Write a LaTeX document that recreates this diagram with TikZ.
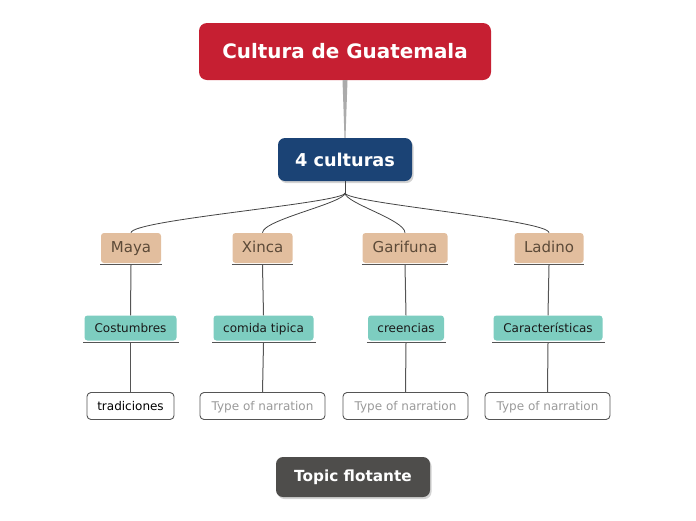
\documentclass[tikz,border=0pt]{standalone}
\usepackage{fontspec}
\setmainfont{DejaVu Sans}
\usetikzlibrary{shadows}
\definecolor{titlecol}{HTML}{C61F32}
\definecolor{mapcol}{HTML}{1B4375}
\definecolor{cultcol}{HTML}{E2BE9E}
\definecolor{culttext}{HTML}{5C4A38}
\definecolor{subcol}{HTML}{7DCDC0}
\definecolor{leafline}{HTML}{555555}
\definecolor{leaftext}{HTML}{9A9A9A}
\definecolor{floatcol}{HTML}{4E4D4B}
\definecolor{linkcol}{HTML}{444444}
\tikzset{
  tnode/.style={rectangle, rounded corners=8pt, fill=titlecol, text=white, font=\fontsize{19.9}{23}\selectfont\bfseries, minimum width=292pt, minimum height=57pt},
  mnode/.style={rectangle, rounded corners=7pt, fill=mapcol, text=white, font=\fontsize{17.7}{21}\selectfont\bfseries, minimum width=134pt, minimum height=43pt, drop shadow={opacity=0.35, shadow xshift=1.5pt, shadow yshift=-2pt}},
  cnode/.style={rectangle, rounded corners=3pt, fill=cultcol, text=culttext, font=\fontsize{15}{18}\selectfont, minimum height=30pt, inner sep=0pt, text height=0.92em, text depth=0.1em},
  snode/.style={rectangle, rounded corners=3pt, fill=subcol, text=black!90, font=\fontsize{12}{14}\selectfont, minimum height=25pt, inner sep=0pt, text height=0.9em, text depth=0.1em},
  lnode/.style={rectangle, rounded corners=4pt, draw=leafline, line width=0.9pt, fill=white, text=leaftext, font=\fontsize{12}{14}\selectfont, minimum height=27pt, inner sep=0pt, text height=0.9em, text depth=0.1em},
  fnode/.style={rectangle, rounded corners=7pt, fill=floatcol, text=white, font=\fontsize{15.3}{18}\selectfont\bfseries, minimum width=154pt, minimum height=40pt, drop shadow={opacity=0.35, shadow xshift=1.5pt, shadow yshift=-2pt}},
  link/.style={draw=linkcol, line width=0.8pt},
  uline/.style={draw=leafline, line width=1.2pt},
}

\begin{document}
\begin{tikzpicture}[x=1pt, y=-1pt]
  \useasboundingbox (0,0) rectangle (696,520);
  \node[tnode] (title) at (345,51.5) {Cultura de Guatemala};
  \node[mnode] (cult) at (345,159.5) {4 culturas};
  % taper from title to map
  \fill[black!33] ([xshift=-2.5pt]title.south) -- ([xshift=2.5pt]title.south)
    -- ([xshift=0.5pt]cult.north) -- ([xshift=-0.5pt]cult.north) -- cycle;
  % the four cultures
  \node[cnode, minimum width=60pt] (maya)     at (131,248)   {Maya};
  \node[cnode, minimum width=60pt] (xinca)    at (262.5,248) {Xinca};
  \node[cnode, minimum width=85pt] (garifuna) at (405,248)   {Garifuna};
  \node[cnode, minimum width=69pt] (ladino)   at (549,248)   {Ladino};
  % subtopics
  \node[snode, minimum width=92pt]  (costumbres) at (130.5,328) {Costumbres};
  \node[snode, minimum width=100pt] (comida)     at (263.5,328) {comida tipica};
  \node[snode, minimum width=76pt]  (creencias)  at (406,328)   {creencias};
  \node[snode, minimum width=109pt] (caract)     at (548,328)   {Características};
  % leaves
  \node[lnode, minimum width=87pt, text=black] (tradic) at (130.5,406) {tradiciones};
  \node[lnode, minimum width=125pt] (narrA) at (262.5,406) {Type of narration};
  \node[lnode, minimum width=125pt] (narrB) at (405.5,406) {Type of narration};
  \node[lnode, minimum width=125pt] (narrC) at (547.5,406) {Type of narration};
  \node[fnode] (float) at (353,477) {Topic flotante};
  % branches from the map topic
  \coordinate (fork) at (345,193);
  \draw[link] (cult) -- (fork);
  \foreach \c in {maya, xinca, garifuna, ladino}
    \draw[link] (fork) .. controls +(0,10) and +(0,-13) .. (\c.north);
  % underlines and vertical links
  \foreach \c/\s/\l in {maya/costumbres/tradic, xinca/comida/narrA,
                        garifuna/creencias/narrB, ladino/caract/narrC} {
    \draw[uline] ([xshift=-0.5pt,yshift=-1.5pt]\c.south west) -- ([xshift=0.5pt,yshift=-1.5pt]\c.south east);
    \draw[uline] ([xshift=-1pt,yshift=-2pt]\s.south west) -- ([xshift=2pt,yshift=-2pt]\s.south east);
    \draw[link, draw=leafline, line width=1pt] ([yshift=-2pt]\c.south) -- (\s.north);
    \draw[link, draw=leafline, line width=1pt] ([yshift=-2.5pt]\s.south) -- (\l.north);
  }
\end{tikzpicture}
\end{document}
